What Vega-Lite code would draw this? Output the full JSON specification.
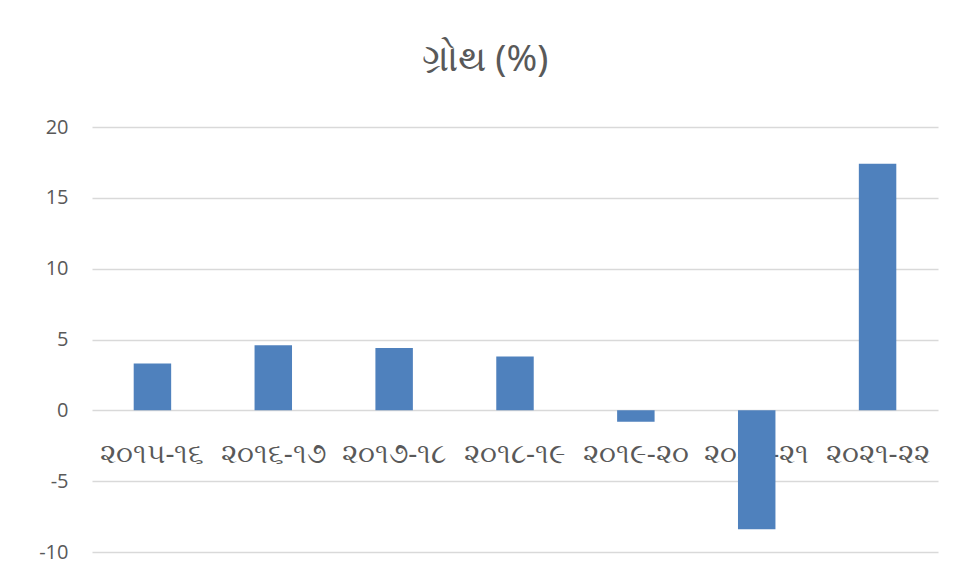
{
  "$schema": "https://vega.github.io/schema/vega-lite/v6.json",
  "width": 846,
  "height": 425,
  "autosize": {"type": "none"},
  "padding": {"left": 92, "top": 127, "right": 19, "bottom": 30},
  "background": "white",
  "title": {
    "text": "ગ્રોથ (%)",
    "fontSize": 37,
    "font": "Noto Sans",
    "fontWeight": "normal",
    "color": "#595959",
    "anchor": "middle",
    "offset": 38,
    "dx": -30
  },
  "data": {
    "values": [
      {"year": "૨૦૧૫-૧૬", "growth": 3.3},
      {"year": "૨૦૧૬-૧૭", "growth": 4.6},
      {"year": "૨૦૧૭-૧૮", "growth": 4.4},
      {"year": "૨૦૧૮-૧૯", "growth": 3.8},
      {"year": "૨૦૧૯-૨૦", "growth": -0.8},
      {"year": "૨૦૨૦-૨૧", "growth": -8.4},
      {"year": "૨૦૨૧-૨૨", "growth": 17.4}
    ]
  },
  "mark": {"type": "bar", "color": "#4f81bd"},
  "encoding": {
    "x": {
      "field": "year",
      "type": "nominal",
      "sort": null,
      "scale": {"paddingInner": 0.69, "paddingOuter": 0.345},
      "axis": {
        "title": null,
        "orient": "bottom",
        "offset": -141.5,
        "domain": false,
        "ticks": false,
        "labelAngle": 0,
        "labelPadding": 30,
        "labelFontSize": 28,
        "labelFont": "Noto Sans",
        "labelColor": "#595959"
      }
    },
    "y": {
      "field": "growth",
      "type": "quantitative",
      "scale": {"domain": [-10, 20], "nice": false},
      "axis": {
        "title": null,
        "values": [-10, -5, 0, 5, 10, 15, 20],
        "labelExpr": "'' + datum.value",
        "domain": false,
        "ticks": false,
        "labelPadding": 24,
        "labelFontSize": 20,
        "labelFont": "Open Sans",
        "labelColor": "#595959",
        "gridColor": "#d9d9d9",
        "gridWidth": 1.5
      }
    }
  },
  "config": {"view": {"stroke": null}}
}
